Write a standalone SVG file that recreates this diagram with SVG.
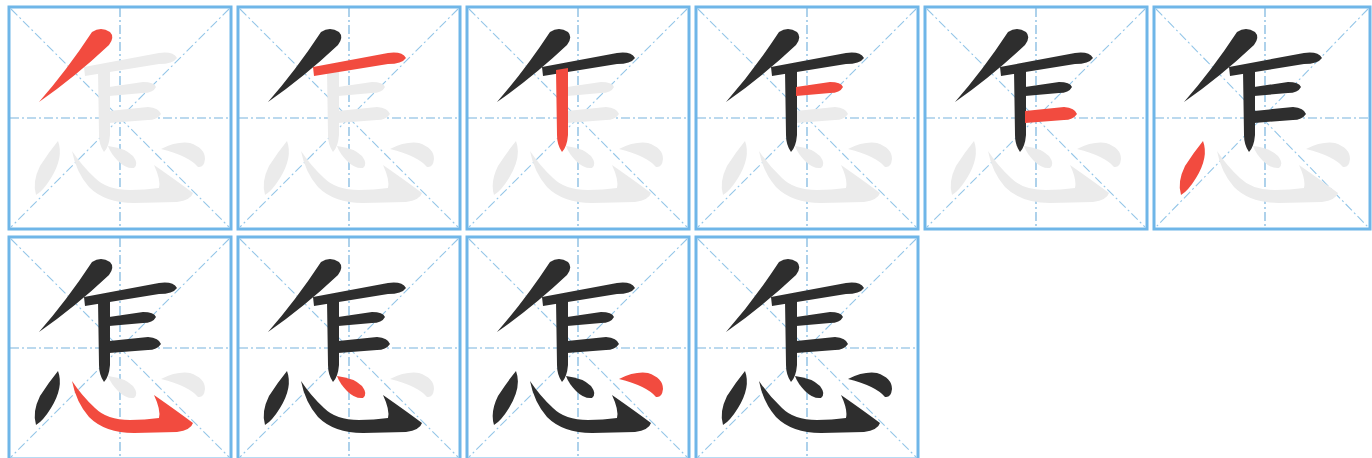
<svg xmlns="http://www.w3.org/2000/svg" xmlns:xlink="http://www.w3.org/1999/xlink" width="1372" height="458" viewBox="0 0 1372 458">
<style>
.box{fill:#ffffff;stroke:#6fb6e8;stroke-width:3}
.guide{stroke:#78b4de;stroke-width:1.2;stroke-dasharray:9 3 2 3;fill:none}
.diag{stroke:#94c6e8;stroke-width:1.1;stroke-dasharray:9 3 2 3;fill:none}
.k{fill:#2e2e2e}
.r{fill:#f24b3f}
.g{fill:#ebebeb}
</style>
<defs>
<g id="grid">
<rect class="box" x="0" y="0" width="222" height="222"/>
<line class="guide" x1="111" y1="1" x2="111" y2="221"/>
<line class="guide" x1="1" y1="111" x2="221" y2="111"/>
<line class="diag" x1="2" y1="2" x2="220" y2="220"/>
<line class="diag" x1="220" y1="2" x2="2" y2="220"/>
</g>
<path id="s1" d="M 83 25 Q 92 19 101 25 Q 106 30 100 38 Q 66 70 30 95 Q 58 63 83 25 Z"/>
<path id="s2" d="M 75 60 L 150 46 Q 164 44 168 51 Q 164 57 150 57 L 76 69 Z"/>
<path id="s3" d="M 89 63 L 101 61 L 101 128 Q 100 140 95 145 Q 90 138 90 128 Z"/>
<path id="s4" d="M 100 80 L 134 75 Q 145 75 147 80 Q 144 86 134 86 L 100 89 Z"/>
<path id="s5" d="M 100 104 L 139 100 Q 150 101 152 107 Q 148 113 139 113 L 100 116 Z"/>
<path id="s6" d="M 49 134 Q 55 150 42 171 Q 34 184 27 188 Q 23 175 31 159 Q 40 145 49 134 Z"/>
<path id="s7" d="M 63 144 Q 67 165 80 180 Q 96 196 125 196 L 168 195 Q 182 193 184 186 Q 168 174 145 158 Q 152 173 150 181 Q 136 183 121 183 Q 98 183 86 171 Q 73 159 63 144 Z"/>
<path id="s8" d="M 99 139 Q 116 141 124 149 Q 130 157 125 161 Q 117 162 109 154 Q 102 147 99 139 Z"/>
<path id="s9" d="M 152 142 Q 168 134 181 136 Q 196 141 196 152 Q 195 161 189 160 Q 180 149 152 142 Z"/>
</defs>

<g id="step1" transform="translate(9,7)">
<use xlink:href="#grid"/>
<use xlink:href="#s2" class="g"/><use xlink:href="#s3" class="g"/><use xlink:href="#s4" class="g"/><use xlink:href="#s5" class="g"/><use xlink:href="#s6" class="g"/><use xlink:href="#s7" class="g"/><use xlink:href="#s8" class="g"/><use xlink:href="#s9" class="g"/>
<use xlink:href="#s1" class="r"/>
</g>

<g id="step2" transform="translate(238,7)">
<use xlink:href="#grid"/>
<use xlink:href="#s3" class="g"/><use xlink:href="#s4" class="g"/><use xlink:href="#s5" class="g"/><use xlink:href="#s6" class="g"/><use xlink:href="#s7" class="g"/><use xlink:href="#s8" class="g"/><use xlink:href="#s9" class="g"/>
<use xlink:href="#s1" class="k"/>
<use xlink:href="#s2" class="r"/>
</g>

<g id="step3" transform="translate(467,7)">
<use xlink:href="#grid"/>
<use xlink:href="#s4" class="g"/><use xlink:href="#s5" class="g"/><use xlink:href="#s6" class="g"/><use xlink:href="#s7" class="g"/><use xlink:href="#s8" class="g"/><use xlink:href="#s9" class="g"/>
<use xlink:href="#s1" class="k"/><use xlink:href="#s2" class="k"/>
<use xlink:href="#s3" class="r"/>
</g>

<g id="step4" transform="translate(696,7)">
<use xlink:href="#grid"/>
<use xlink:href="#s5" class="g"/><use xlink:href="#s6" class="g"/><use xlink:href="#s7" class="g"/><use xlink:href="#s8" class="g"/><use xlink:href="#s9" class="g"/>
<use xlink:href="#s1" class="k"/><use xlink:href="#s2" class="k"/><use xlink:href="#s3" class="k"/>
<use xlink:href="#s4" class="r"/>
</g>

<g id="step5" transform="translate(925,7)">
<use xlink:href="#grid"/>
<use xlink:href="#s6" class="g"/><use xlink:href="#s7" class="g"/><use xlink:href="#s8" class="g"/><use xlink:href="#s9" class="g"/>
<use xlink:href="#s1" class="k"/><use xlink:href="#s2" class="k"/><use xlink:href="#s3" class="k"/><use xlink:href="#s4" class="k"/>
<use xlink:href="#s5" class="r"/>
</g>

<g id="step6" transform="translate(1154,7)">
<rect class="box" x="0" y="0" width="216" height="222"/>
<line class="guide" x1="111" y1="1" x2="111" y2="221"/>
<line class="guide" x1="1" y1="111" x2="215" y2="111"/>
<line class="diag" x1="2" y1="2" x2="214" y2="220"/>
<line class="diag" x1="214" y1="2" x2="2" y2="220"/>
<use xlink:href="#s7" class="g"/><use xlink:href="#s8" class="g"/><use xlink:href="#s9" class="g"/>
<use xlink:href="#s1" class="k"/><use xlink:href="#s2" class="k"/><use xlink:href="#s3" class="k"/><use xlink:href="#s4" class="k"/><use xlink:href="#s5" class="k"/>
<use xlink:href="#s6" class="r"/>
</g>

<g id="step7" transform="translate(9,237)">
<use xlink:href="#grid"/>
<use xlink:href="#s8" class="g"/><use xlink:href="#s9" class="g"/>
<use xlink:href="#s1" class="k"/><use xlink:href="#s2" class="k"/><use xlink:href="#s3" class="k"/><use xlink:href="#s4" class="k"/><use xlink:href="#s5" class="k"/><use xlink:href="#s6" class="k"/>
<use xlink:href="#s7" class="r"/>
</g>

<g id="step8" transform="translate(238,237)">
<use xlink:href="#grid"/>
<use xlink:href="#s9" class="g"/>
<use xlink:href="#s1" class="k"/><use xlink:href="#s2" class="k"/><use xlink:href="#s3" class="k"/><use xlink:href="#s4" class="k"/><use xlink:href="#s5" class="k"/><use xlink:href="#s6" class="k"/><use xlink:href="#s7" class="k"/>
<use xlink:href="#s8" class="r"/>
</g>

<g id="step9" transform="translate(467,237)">
<use xlink:href="#grid"/>
<use xlink:href="#s1" class="k"/><use xlink:href="#s2" class="k"/><use xlink:href="#s3" class="k"/><use xlink:href="#s4" class="k"/><use xlink:href="#s5" class="k"/><use xlink:href="#s6" class="k"/><use xlink:href="#s7" class="k"/><use xlink:href="#s8" class="k"/>
<use xlink:href="#s9" class="r"/>
</g>

<g id="step10" transform="translate(696,237)">
<use xlink:href="#grid"/>
<use xlink:href="#s1" class="k"/><use xlink:href="#s2" class="k"/><use xlink:href="#s3" class="k"/><use xlink:href="#s4" class="k"/><use xlink:href="#s5" class="k"/><use xlink:href="#s6" class="k"/><use xlink:href="#s7" class="k"/><use xlink:href="#s8" class="k"/><use xlink:href="#s9" class="k"/>
</g>
</svg>
